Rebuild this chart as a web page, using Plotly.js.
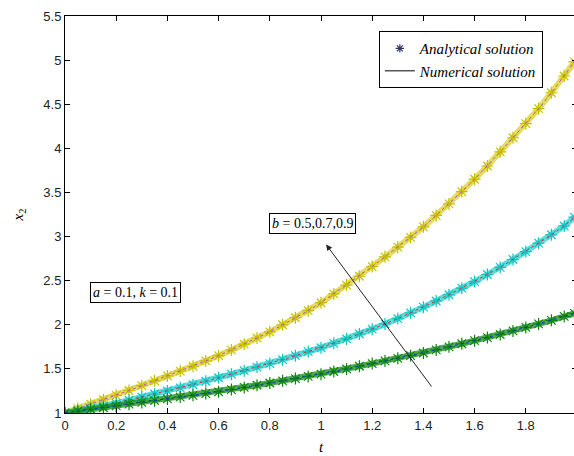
<!DOCTYPE html>
<html>
<head>
<meta charset="utf-8">
<script src="https://cdn.plot.ly/plotly-3.0.1.min.js"></script>
<style>
html,body{margin:0;padding:0;overflow:hidden;background:#fff;}
#chart{width:580px;height:456px;}
</style>
</head>
<body>
<div id="chart"></div>
<script>
// time grid (t)
var t = [0,0.05,0.1,0.15,0.2,0.25,0.3,0.35,0.4,0.45,0.5,0.55,0.6,0.65,0.7,0.75,0.8,0.85,0.9,0.95,
         1.0,1.05,1.1,1.15,1.2,1.25,1.3,1.35,1.4,1.45,1.5,1.55,1.6,1.65,1.7,1.75,1.8,1.85,1.9,1.95,1.99];
// b = 0.9 (yellow)
var x2_b09 = [1.00,1.05,1.10,1.15,1.20,1.255,1.31,1.365,1.42,1.475,1.53,1.59,1.65,1.715,1.78,1.85,1.92,2.00,2.08,2.16,
              2.25,2.35,2.45,2.55,2.66,2.77,2.88,2.99,3.11,3.24,3.37,3.51,3.65,3.80,3.96,4.12,4.28,4.45,4.63,4.82,4.98];
// b = 0.7 (cyan)
var x2_b07 = [1.00,1.025,1.05,1.08,1.11,1.145,1.18,1.215,1.25,1.285,1.32,1.36,1.40,1.44,1.48,1.52,1.56,1.605,1.65,1.695,
              1.74,1.79,1.84,1.895,1.95,2.01,2.07,2.135,2.20,2.27,2.34,2.415,2.49,2.57,2.65,2.74,2.83,2.925,3.02,3.12,3.22];
// b = 0.5 (green)
var x2_b05 = [1.00,1.02,1.04,1.06,1.08,1.10,1.12,1.14,1.16,1.18,1.20,1.22,1.24,1.265,1.29,1.315,1.34,1.365,1.39,1.415,
              1.44,1.47,1.50,1.53,1.56,1.59,1.62,1.65,1.68,1.715,1.75,1.785,1.82,1.855,1.89,1.93,1.97,2.01,2.05,2.095,2.13];

var xTicks = [0,0.2,0.4,0.6,0.8,1,1.2,1.4,1.6,1.8];
var xTickText = ['0','0.2','0.4','0.6','0.8','1','1.2','1.4','1.6','1.8'];
var yTicks = [1,1.5,2,2.5,3,3.5,4,4.5,5,5.5];
var yTickText = ['1','1.5','2','2.5','3','3.5','4','4.5','5','5.5'];

var seriesY = [x2_b09, x2_b07, x2_b05];
var markColors = ['#c4c000', '#10c4c4', '#0e860e'];
var bandColors = ['rgba(215,210,40,0.75)', 'rgba(40,210,210,0.75)', 'rgba(20,140,20,0.75)'];
var numColors = ['#d040c0', '#d03030', '#1030c0'];

var traces = [];
for (var i = 0; i < 3; i++) {
  traces.push({
    x: t, y: seriesY[i], type: 'scatter', mode: 'lines+markers',
    line: {color: bandColors[i], width: 6},
    marker: {symbol: 'asterisk-open', size: 10, color: markColors[i], line: {color: markColors[i], width: 1.2}},
    showlegend: false, hoverinfo: 'skip'
  });
  traces.push({
    x: t, y: seriesY[i], type: 'scatter', mode: 'lines',
    line: {color: numColors[i], width: 1, dash: 'dot'},
    showlegend: false, hoverinfo: 'skip'
  });
}
// legend entries
traces.push({x: [null], y: [null], type: 'scatter', mode: 'markers', name: '<i>Analytical solution</i>',
  marker: {symbol: 'asterisk-open', size: 7, color: '#333366', line: {color: '#333366', width: 1.2}}});
traces.push({x: [null], y: [null], type: 'scatter', mode: 'lines', name: '<i>Numerical solution</i>',
  line: {color: '#000', width: 1}});

var serif = 'Liberation Serif, Times New Roman, serif';
var sans = 'Liberation Sans, Arial, sans-serif';

var layout = {
  width: 580, height: 456,
  margin: {l: 65, r: 3, t: 16, b: 43},
  paper_bgcolor: '#fff', plot_bgcolor: '#fff',
  showlegend: true,
  legend: {
    x: 0.613, y: 0.962, xanchor: 'left', yanchor: 'top',
    bgcolor: '#fff', bordercolor: '#000', borderwidth: 1,
    font: {family: serif, size: 15, color: '#000'},
    tracegroupgap: 0, itemwidth: 30
  },
  xaxis: {
    range: [0, 2], tickvals: xTicks, ticktext: xTickText,
    ticks: 'inside', ticklen: 5, tickcolor: '#000', mirror: 'ticks',
    showline: true, linecolor: '#000', linewidth: 1, showgrid: false, zeroline: false,
    tickfont: {family: sans, size: 13, color: '#222'},
    title: {text: '<i>t</i>', font: {family: serif, size: 15, color: '#000'}, standoff: 9}
  },
  yaxis: {
    range: [1, 5.5], tickvals: yTicks, ticktext: yTickText,
    ticks: 'inside', ticklen: 5, tickcolor: '#000', mirror: 'ticks',
    showline: true, linecolor: '#000', linewidth: 1, showgrid: false, zeroline: false,
    tickfont: {family: sans, size: 13, color: '#222'},
    title: {text: '<i>x</i><sub>2</sub>', font: {family: serif, size: 15, color: '#000'}, standoff: 16}
  },
  annotations: [
    {x: 0.274, y: 2.37, xref: 'x', yref: 'y', showarrow: false,
     text: '<i>a</i> = 0.1, <i>k</i> = 0.1', font: {family: serif, size: 14, color: '#000'},
     bgcolor: '#fff', bordercolor: '#000', borderwidth: 1, borderpad: 2},
    {x: 0.965, y: 3.15, xref: 'x', yref: 'y', showarrow: false,
     text: '<i>b</i> = 0.5,0.7,0.9', font: {family: serif, size: 14, color: '#000'},
     bgcolor: '#fff', bordercolor: '#000', borderwidth: 1, borderpad: 2},
    {x: 1.02, y: 2.91, ax: 1.436, ay: 1.284, xref: 'x', yref: 'y', axref: 'x', ayref: 'y',
     text: '', showarrow: true, arrowhead: 2, arrowsize: 1.2, arrowwidth: 1, arrowcolor: '#222'}
  ]
};

Plotly.newPlot('chart', traces, layout, {staticPlot: true, displayModeBar: false});
</script>
</body>
</html>
